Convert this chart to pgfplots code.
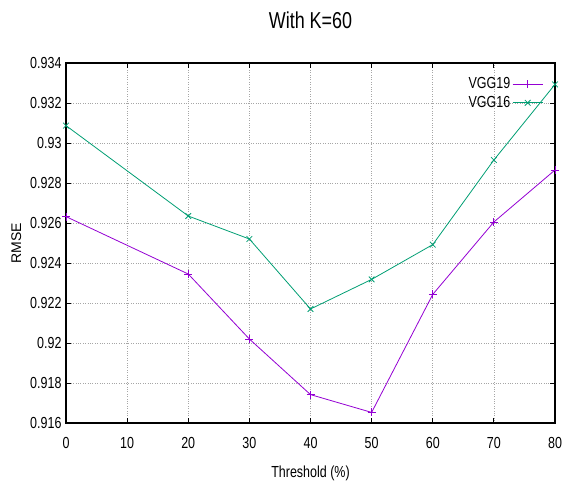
\documentclass[border=0pt]{standalone}
\usepackage{pgfplots}
\pgfplotsset{compat=1.18}
\usepackage{fontspec}
\setmainfont[FakeStretch=0.78]{Liberation Sans}
\newfontfamily\plainfont{Liberation Sans}
\definecolor{cviolet}{HTML}{9400D3}
\definecolor{cgreen}{HTML}{009E73}
\begin{document}
\begin{tikzpicture}
\begin{axis}[
  scale only axis,
  width=489pt, height=360pt,
  xmin=0, xmax=80, ymin=0.916, ymax=0.934,
  xtick={0,10,...,80},
  ytick={0.916,0.918,...,0.934},
  scaled y ticks=false,
  /pgf/number format/fixed,
  /pgf/number format/precision=3,
  /pgf/number format/assume math mode=true,
  tick label style={font=\fontsize{16}{18}\selectfont, black},
  yticklabel style={xshift=-1pt},
  xticklabel style={yshift=-11pt},
  tick align=inside,
  major tick length=5pt,
  tick style={black, line width=0.8pt},
  axis line style={black, line width=1.2pt},
  grid=major,
  major grid style={gray!70, dotted, line width=0.7pt},
  title={With K=60},
  title style={font=\fontsize{23}{25}\selectfont, yshift=25pt},
  xlabel={Threshold (\%)},
  ylabel={\plainfont RMSE},
  xlabel style={font=\fontsize{16}{18}\selectfont, yshift=-10pt},
  ylabel style={font=\fontsize{14}{16}\selectfont, yshift=2pt},
  legend style={draw=none, fill=none,
    at={(rel axis cs:0.976,0.965)}, anchor=north east,
    font=\fontsize{16}{18}\selectfont, row sep=2pt,
    inner sep=0pt, nodes={inner sep=2pt}},
  legend cell align=right,
  legend plot pos=right,
  legend image code/.code={\draw[mark repeat=2,mark phase=2,#1] plot coordinates {(0pt,0pt) (15pt,0pt) (30pt,0pt)};},
  every axis plot/.append style={line width=0.8pt, mark size=4pt, mark options={solid}},
  clip=false,
]
\addplot[color=cviolet, mark=+] coordinates {
  (0,0.92632) (20,0.92345) (30,0.92020) (40,0.91742) (50,0.91653)
  (60,0.92243) (70,0.92605) (80,0.92865)
};
\addlegendentry{VGG19}
\addplot[color=cgreen, mark=x] coordinates {
  (0,0.93087) (20,0.92635) (30,0.92520) (40,0.92170) (50,0.92318)
  (60,0.92492) (70,0.92915) (80,0.93293)
};
\addlegendentry{VGG16}
\coordinate (bl) at (rel axis cs:0,0);
\coordinate (tr) at (rel axis cs:1,1);
\end{axis}
\pgfresetboundingbox
\path ([xshift=-66pt,yshift=-62pt]bl) rectangle ([xshift=10pt,yshift=63pt]tr);
\end{tikzpicture}
\end{document}
